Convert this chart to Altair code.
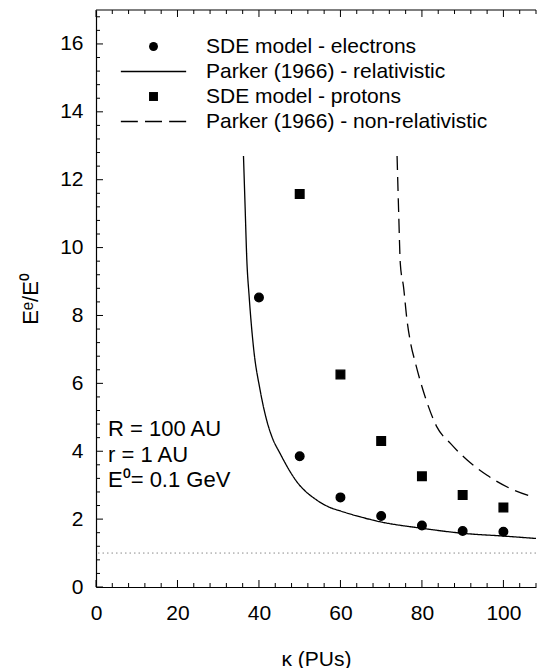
import altair as alt
import pandas as pd

# ---- data ----
series_names = [
    "SDE model - electrons",
    "Parker (1966) - relativistic",
    "SDE model - protons",
    "Parker (1966) - non-relativistic",
]

kappa_electrons = [40, 50, 60, 70, 80, 90, 100]
ratio_electrons = [8.53, 3.85, 2.64, 2.09, 1.81, 1.65, 1.63]

kappa_protons = [50, 60, 70, 80, 90, 100]
ratio_protons = [11.58, 6.26, 4.30, 3.26, 2.71, 2.34]

kappa_rel = [36.2, 36.6, 37.0, 37.6, 38.65, 40.3, 41.9, 43.2, 45.2, 49.3,
             54.2, 57.5, 60.0, 69.8, 80.0, 90.2, 100.1, 108.0]
ratio_rel = [12.7, 11.2, 9.7, 8.55, 7.07, 5.79, 4.91, 4.42, 3.93, 3.10,
             2.56, 2.34, 2.24, 1.92, 1.73, 1.58, 1.50, 1.43]

kappa_nonrel = [73.9, 74.3, 74.7, 75.5, 76.3, 77.2, 78.4, 80.8, 83.7, 87.0,
                91.1, 96.0, 101.7, 107.0]
ratio_nonrel = [12.7, 11.0, 9.52, 8.83, 7.9, 7.2, 6.6, 5.60, 4.71, 4.23,
                3.74, 3.29, 2.90, 2.66]

reference_level = [1.0]

annotation_lines = ["R = 100 AU", "r = 1 AU", "E\u2070= 0.1 GeV"]

x_ticks = list(range(0, 109, 4))
y_ticks = [round(0.4 * i, 1) for i in range(43)]

# ---- tables ----
el_df = pd.DataFrame({"kappa": kappa_electrons, "ratio": ratio_electrons,
                      "series": [series_names[0]] * len(kappa_electrons)})
pr_df = pd.DataFrame({"kappa": kappa_protons, "ratio": ratio_protons,
                      "series": [series_names[2]] * len(kappa_protons)})
lines_df = pd.DataFrame({
    "kappa": kappa_rel + kappa_nonrel,
    "ratio": ratio_rel + ratio_nonrel,
    "series": [series_names[1]] * len(kappa_rel) + [series_names[3]] * len(kappa_nonrel),
})
ref_df = pd.DataFrame({"ratio": reference_level})
note_df = pd.DataFrame({"a": [0]})
xt_df = pd.DataFrame({"kappa": x_ticks, "major": [v % 20 == 0 for v in x_ticks]})
yt_df = pd.DataFrame({"ratio": y_ticks, "major": [v % 2 == 0 for v in y_ticks]})

FONT = "Liberation Sans"
FS = 21
W, H = 440, 577
MAJ, MIN = 7, 4

xscale = alt.Scale(domain=[0, 108], nice=False, zero=False)
yscale = alt.Scale(domain=[0, 17], nice=False, zero=False)

x_axis = alt.Axis(
    orient="bottom", values=x_ticks, grid=False, ticks=False, tickSize=0,
    domainColor="black", domainWidth=1.2,
    labelExpr="datum.value % 20 === 0 ? datum.label : ''",
    labelOverlap=False, labelFlush=False, labelFont=FONT, labelFontSize=FS,
    labelColor="black", labelPadding=15, labelBaseline="top",
    title="\u03ba (PUs)", titleFont=FONT, titleFontSize=FS, titleFontWeight="normal",
    titleColor="black", titleX=W / 2, titleY=72, titleBaseline="middle", titleAlign="center",
)
y_axis = alt.Axis(
    orient="left", values=y_ticks, grid=False, ticks=False, tickSize=0,
    domainColor="black", domainWidth=1.2,
    labelExpr="datum.value % 2 === 0 ? format(datum.value, 'd') : ''",
    labelOverlap=False, labelFlush=False, labelFont=FONT, labelFontSize=FS,
    labelColor="black", labelPadding=13,
    title="E\u1d49/E\u2070", titleFont=FONT, titleFontSize=22, titleFontWeight="normal",
    titleColor="black", titleX=-66, titleY=H / 2, titleAngle=-90,
    titleBaseline="middle", titleAlign="center",
)

legend = alt.Legend(
    title=None, orient="none", legendX=47, legendY=26, padding=0,
    labelFont=FONT, labelFontSize=FS, labelColor="black", labelOffset=42,
    labelLimit=400, rowPadding=3, symbolSize=80, symbolStrokeWidth=1.3,
    symbolFillColor="black", symbolStrokeColor="black",
)

# legend glyphs: filled circle, thin solid bar, filled square, three short bars
solid_bar = "M-7.3,-0.14H7.3V0.14H-7.3Z"
dashed_bar = ("M-7.3,-0.14H-3.5V0.14H-7.3Z"
              "M-1.9,-0.14H1.9V0.14H-1.9Z"
              "M3.5,-0.14H7.3V0.14H3.5Z")
shape_range = ["circle", solid_bar, "square", dashed_bar]
dash_range = [[1, 0], [1, 0], [1, 0], [14, 7]]
shape_scale = alt.Scale(domain=series_names, range=shape_range)
dash_scale = alt.Scale(domain=series_names, range=dash_range)

ref = alt.Chart(ref_df).mark_rule(color="#8a8a8a", strokeDash=[1.5, 3], strokeWidth=1).encode(
    y=alt.Y("ratio:Q", scale=yscale, axis=None),
)

lines = alt.Chart(lines_df).mark_line(color="black", strokeWidth=1.3, interpolate="monotone").encode(
    x=alt.X("kappa:Q", scale=xscale, axis=None),
    y=alt.Y("ratio:Q", scale=yscale, axis=None),
    strokeDash=alt.StrokeDash("series:N", scale=dash_scale, legend=legend),
)

pt_kw = dict(filled=True, fill="black", stroke="black", strokeWidth=1.3, opacity=1, size=75)

electrons = alt.Chart(el_df).mark_point(**pt_kw).encode(
    x=alt.X("kappa:Q", scale=xscale, axis=x_axis),
    y=alt.Y("ratio:Q", scale=yscale, axis=y_axis),
    shape=alt.Shape("series:N", scale=shape_scale, legend=legend),
)

protons = alt.Chart(pr_df).mark_point(**pt_kw).encode(
    x=alt.X("kappa:Q", scale=xscale, axis=None),
    y=alt.Y("ratio:Q", scale=yscale, axis=None),
    shape=alt.Shape("series:N", scale=shape_scale, legend=legend),
)

# inward tick marks drawn at the tick values through the scales
def x_ticks_layer(major, y0, y1):
    return alt.Chart(xt_df).transform_filter(
        alt.datum.major if major else ~alt.datum.major
    ).mark_rule(color="black", strokeWidth=1).encode(
        x=alt.X("kappa:Q", scale=xscale, axis=None),
        y=alt.value(y0), y2=alt.value(y1),
    )

def y_ticks_layer(major):
    return alt.Chart(yt_df).transform_filter(
        alt.datum.major if major else ~alt.datum.major
    ).mark_rule(color="black", strokeWidth=1).encode(
        y=alt.Y("ratio:Q", scale=yscale, axis=None),
        x=alt.value(0), x2=alt.value(MAJ if major else MIN),
    )

tick_layers = [
    x_ticks_layer(True, H, H - MAJ), x_ticks_layer(False, H, H - MIN),
    x_ticks_layer(True, 0, MAJ), x_ticks_layer(False, 0, MIN),
    y_ticks_layer(True), y_ticks_layer(False),
]

top_frame = alt.Chart(note_df).mark_rule(color="black", strokeWidth=1.2).encode(
    x=alt.value(0), x2=alt.value(W), y=alt.value(0),
)

note = alt.Chart(note_df).mark_text(
    text=annotation_lines, align="left", baseline="top", font=FONT, fontSize=22,
    lineHeight=25.5, color="black",
).encode(x=alt.value(12), y=alt.value(409))

chart = (
    alt.layer(ref, *tick_layers, top_frame, lines, electrons, protons, note)
    .resolve_axis(x="independent", y="independent")
    .properties(
        width=W, height=H,
        padding={"left": 96, "top": 10, "right": 1, "bottom": 81},
        autosize=alt.AutoSizeParams(type="none"),
        background="white",
    )
    .configure_view(stroke=None)
)

chart.save("out.html", embed_options={"renderer": "svg", "actions": False})
